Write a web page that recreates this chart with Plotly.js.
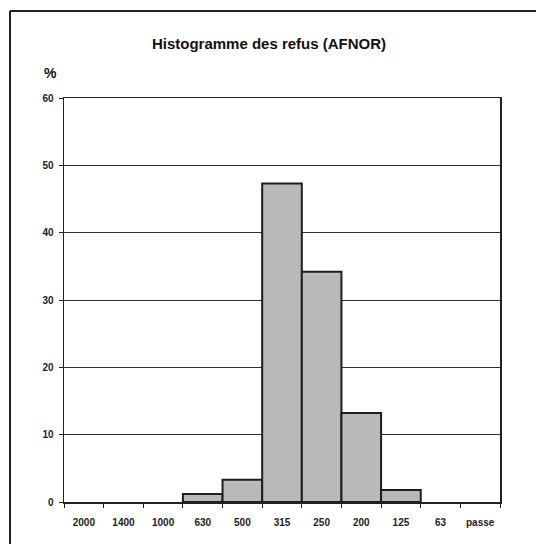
<!DOCTYPE html>
<html>
<head>
<meta charset="utf-8">
<script src="https://cdn.plot.ly/plotly-3.0.1.min.js"></script>
<style>
html,body{margin:0;padding:0;background:#fff;overflow:hidden;}
#chart{width:536px;height:544px;}
</style>
</head>
<body>
<div id="chart"></div>
<script>
const categories = ["2000","1400","1000","630","500","315","250","200","125","63","passe"];
const refus = [0, 0, 0, 1.2, 3.3, 47.3, 34.2, 13.2, 1.8, 0, 0];
const yTicks = [0, 10, 20, 30, 40, 50, 60];

const FONT = "Arial, 'Liberation Sans', sans-serif";

const trace = {
  type: "bar",
  x: categories,
  y: refus,
  marker: {
    color: "#b9b9b9",
    line: {color: "#1e1e1e", width: refus.map(v => v > 0 ? 2 : 0)}
  },
  hoverinfo: "x+y"
};

const px = v => (v - 64) / 436;
const py = v => (502 - v) / 404;

const layout = {
  width: 536, height: 544,
  margin: {l: 64, r: 36, t: 98, b: 42, pad: 0},
  paper_bgcolor: "#fff",
  plot_bgcolor: "#fff",
  showlegend: false,
  bargap: 0,
  title: {
    text: "<b>Histogramme des refus (AFNOR)</b>",
    font: {family: FONT, size: 15, color: "#111"},
    xref: "paper", x: px(269), xanchor: "center",
    yref: "container", y: 1 - 44/544, yanchor: "middle"
  },
  xaxis: {
    type: "category",
    categoryorder: "array", categoryarray: categories,
    tickson: "boundaries",
    ticks: "outside", ticklen: 4, tickwidth: 1, tickcolor: "#222",
    showline: true, linecolor: "#222", linewidth: 1.5, mirror: true,
    showgrid: false, zeroline: false,
    tickfont: {family: FONT, size: 10, color: "#222", weight: "bold"},
    ticklabelstandoff: 10
  },
  yaxis: {
    range: [0, 60],
    tickvals: yTicks,
    ticktext: yTicks.map(String),
    ticks: "outside", ticklen: 4, tickwidth: 1, tickcolor: "#222",
    showline: true, linecolor: "#222", linewidth: 1.5, mirror: true,
    showgrid: true, gridcolor: "#333", gridwidth: 1,
    zeroline: false,
    tickfont: {family: FONT, size: 10, color: "#222", weight: "bold"},
    ticklabelstandoff: 3
  },
  annotations: [{
    text: "<b>%</b>", xref: "paper", yref: "paper",
    x: px(50), y: py(73), xanchor: "center", yanchor: "middle",
    showarrow: false, font: {family: FONT, size: 14, color: "#111"}
  }],
  shapes: [
    {type: "line", xref: "paper", yref: "paper",
     x0: px(10), x1: px(536), y0: py(11), y1: py(11),
     line: {color: "#222", width: 2}, layer: "below"},
    {type: "line", xref: "paper", yref: "paper",
     x0: px(10), x1: px(10), y0: py(11), y1: py(544),
     line: {color: "#222", width: 2}, layer: "below"}
  ]
};

Plotly.newPlot("chart", [trace], layout, {displayModeBar: false, staticPlot: true});
</script>
</body>
</html>
